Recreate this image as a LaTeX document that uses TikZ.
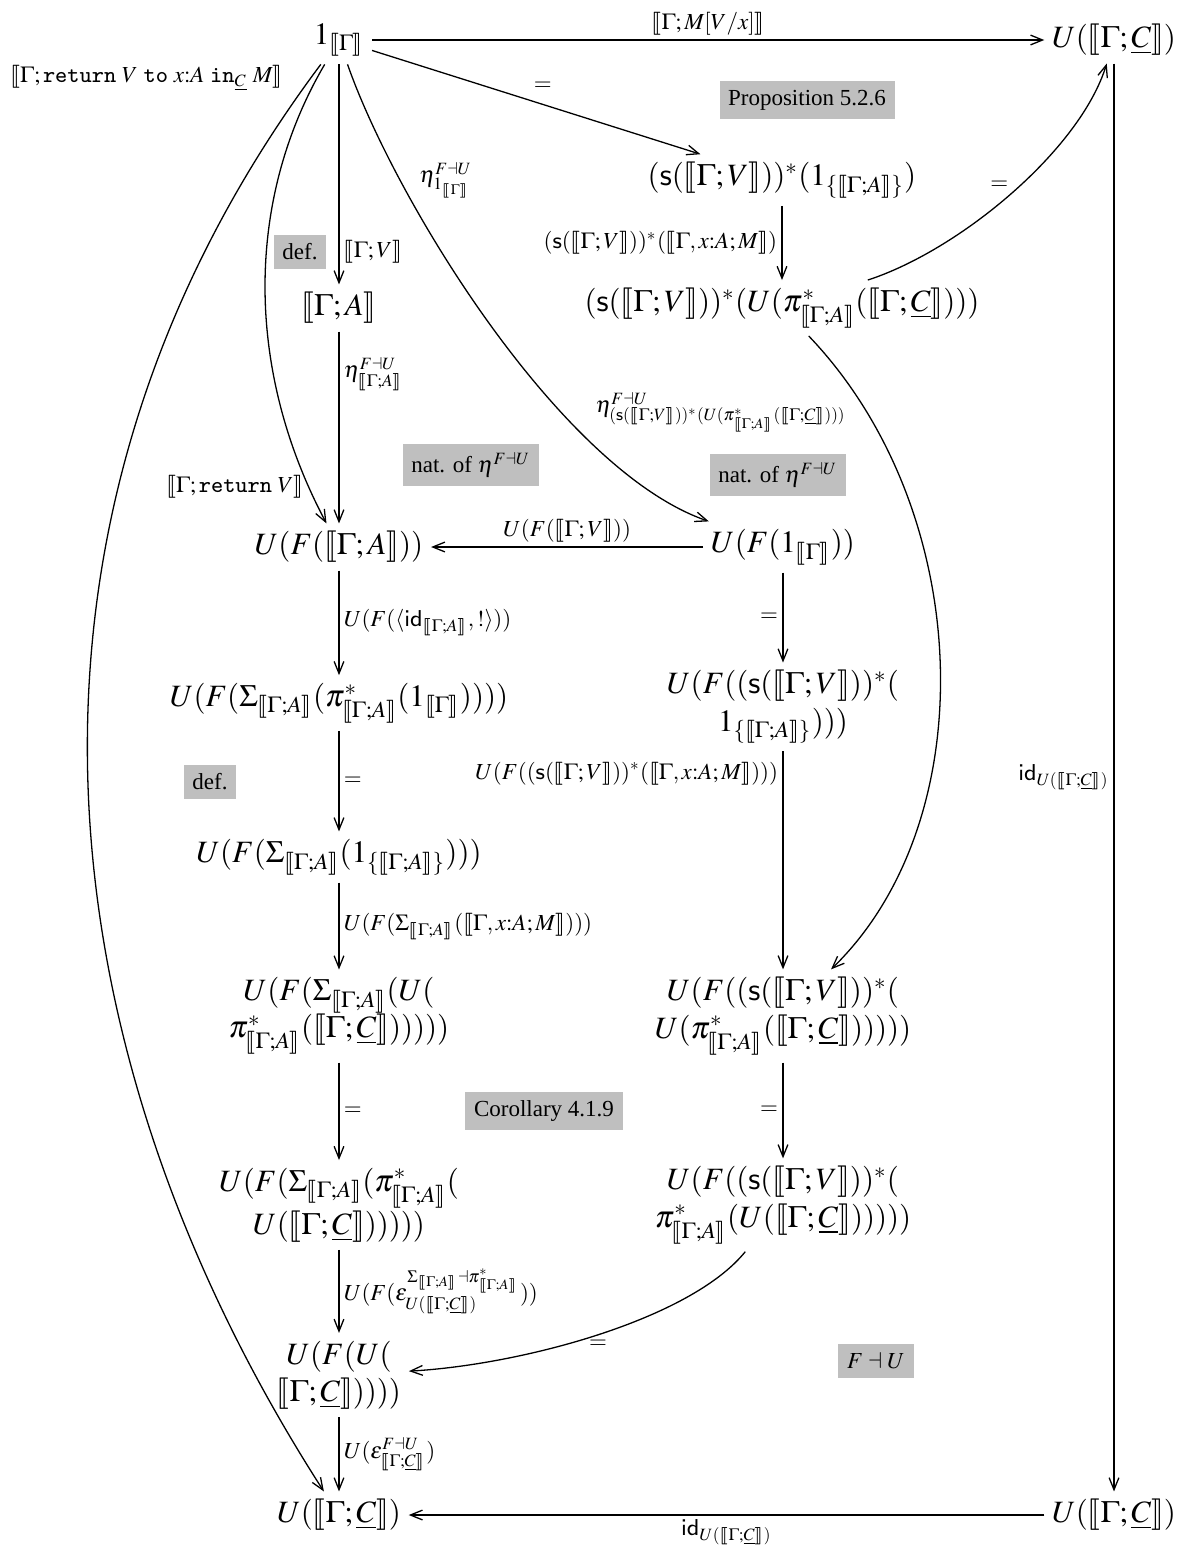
\documentclass[tikz,border=0pt]{standalone}
\usepackage{mathptmx}
\usepackage{stmaryrd}
\usepackage{fontspec}
\setmainfont{Liberation Serif}
\setsansfont{Liberation Sans}
\usetikzlibrary{arrows.meta}
\newcommand{\semb}[1]{\llbracket #1\rrbracket}
\newcommand{\uC}{\underline{C}}
\newcommand{\sV}{(\mathsf{s}(\semb{\Gamma;V}))^*}
\newcommand{\GA}{\semb{\Gamma;A}}
\begin{document}
\begin{tikzpicture}[x=0.348pt,y=-0.348pt,line width=0.45pt,
  obj/.style={inner sep=2.5pt,font=\fontsize{10.8}{13}\selectfont,align=center},
  lbl/.style={font=\fontsize{8}{9.6}\selectfont,inner sep=1.5pt},
  note/.style={fill=gray!50,font=\fontsize{8}{9.6}\selectfont,inner sep=3pt},
  arr/.style={-{Straight Barb[length=4.2pt,width=3.4pt]}}]
\useasboundingbox (0,0) rectangle (1196,1555);
% objects
\node[obj] (n1) at (339,40) {$1_{\semb{\Gamma}}$};
\node[obj] (nUC1) at (1114,40) {$U(\semb{\Gamma;\uC})$};
\node[obj] (nC) at (782,180) {$\sV(1_{\{\GA\}})$};
\node[obj] (nD) at (782,308) {$\sV(U(\pi^*_{\GA}(\semb{\Gamma;\uC})))$};
\node[obj] (nGA) at (339,308) {$\GA$};
\node[obj] (nUFA) at (339,547) {$U(F(\GA))$};
\node[obj] (nUF1) at (783,547) {$U(F(1_{\semb{\Gamma}}))$};
\node[obj] (nL2) at (339,703) {$U(F(\Sigma_{\GA}(\pi^*_{\GA}(1_{\semb{\Gamma}}))))$};
\node[obj] (nR2) at (783,707) {$U(F(\sV($\\$1_{\{\GA\}})))$};
\node[obj] (nL3) at (339,857) {$U(F(\Sigma_{\GA}(1_{\{\GA\}})))$};
\node[obj] (nL4) at (339,1016) {$U(F(\Sigma_{\GA}(U($\\$\pi^*_{\GA}(\semb{\Gamma;\uC})))))$};
\node[obj] (nR4) at (783,1016) {$U(F(\sV($\\$U(\pi^*_{\GA}(\semb{\Gamma;\uC})))))$};
\node[obj] (nL5) at (339,1205) {$U(F(\Sigma_{\GA}(\pi^*_{\GA}($\\$U(\semb{\Gamma;\uC})))))$};
\node[obj] (nR5) at (783,1205) {$U(F(\sV($\\$\pi^*_{\GA}(U(\semb{\Gamma;\uC})))))$};
\node[obj] (nL6) at (339,1375) {$U(F(U($\\$\semb{\Gamma;\uC}))))$};
\node[obj] (nB1) at (339,1515) {$U(\semb{\Gamma;\uC})$};
\node[obj] (nB2) at (1114,1515) {$U(\semb{\Gamma;\uC})$};
% notes
\node[note] (p1) at (807,100) {Proposition 5.2.6};
\node[note] (d1) at (300,252) {def.};
\node[note] (e1) at (471,465) {nat. of $\eta^{F\dashv U}$};
\node[note] (e2) at (778,475) {nat. of $\eta^{F\dashv U}$};
\node[note] (d2) at (210,782) {def.};
\node[note] (c1) at (544,1111) {Corollary 4.1.9};
\node[note] (a1) at (876,1361) {$F\dashv U$};
% arrows
\draw[arr] (n1) -- node[lbl,above]{$\semb{\Gamma;M[V/x]}$} (nUC1);
\draw[arr] (n1) -- node[lbl,above=3pt,pos=0.52]{$=$} (nC);
\draw[arr] (n1) -- node[lbl,right,pos=0.85]{$\semb{\Gamma;V}$} (nGA);
\draw[arr] (nC) -- node[lbl,left]{$\sV(\semb{\Gamma,x{:}A;M})$} (nD);
\draw[arr] (nD) .. controls (960,250) and (1080,150) .. node[lbl,pos=0.5,anchor=south east,inner sep=1pt]{$=$} (nUC1);
\draw[arr] (nGA) -- node[lbl,right,pos=0.22]{$\eta^{F\dashv U}_{\GA}$} (nUFA);
\draw[arr] (n1) .. controls (245,200) and (245,370) .. node[lbl,pos=0.92,left]{$\semb{\Gamma;\mathtt{return}\ V}$} (nUFA);
\draw[arr] (n1) .. controls (-20,520) and (40,1050) .. node[lbl,pos=0.01,anchor=east,xshift=-8pt]{$\semb{\Gamma;\mathtt{return}\ V\ \mathtt{to}\ x{:}A\ \mathtt{in}_{\uC}\ M}$} (nB1);
\draw[arr] (n1) .. controls (395,200) and (560,470) .. node[lbl,pos=0.24,right=5pt]{$\eta^{F\dashv U}_{1_{\semb{\Gamma}}}$} (nUF1);
\draw[arr] (nD) .. controls (975,510) and (985,820) .. node[lbl,pos=0.1,anchor=east,xshift=-1pt,yshift=-7pt]{$\eta^{F\dashv U}_{\sV(U(\pi^*_{\GA}(\semb{\Gamma;\uC})))}$} (nR4);
\draw[arr] (nUF1) -- node[lbl,above]{$U(F(\semb{\Gamma;V}))$} (nUFA);
\draw[arr] (nUFA) -- node[lbl,right]{$U(F(\langle\mathsf{id}_{\GA},!\rangle))$} (nL2);
\draw[arr] (nUF1) -- node[lbl,left]{$=$} (nR2);
\draw[arr] (nL2) -- node[lbl,right]{$=$} (nL3);
\draw[arr] (nR2) -- node[lbl,left,pos=0.1]{$U(F(\sV(\semb{\Gamma,x{:}A;M})))$} (nR4);
\draw[arr] (nL3) -- node[lbl,right]{$U(F(\Sigma_{\GA}(\semb{\Gamma,x{:}A;M})))$} (nL4);
\draw[arr] (nL4) -- node[lbl,right]{$=$} (nL5);
\draw[arr] (nR4) -- node[lbl,left]{$=$} (nR5);
\draw[arr] (nL5) -- node[lbl,right]{$U(F(\varepsilon^{\Sigma_{\GA}\dashv\pi^*_{\GA}}_{U(\semb{\Gamma;\uC})}))$} (nL6);
\draw[arr] (nR5) .. controls (690,1320) and (520,1365) .. node[lbl,below]{$=$} (nL6);
\draw[arr] (nL6) -- node[lbl,right]{$U(\varepsilon^{F\dashv U}_{\semb{\Gamma;\uC}})$} (nB1);
\draw[arr] (nUC1) -- node[lbl,left]{$\mathsf{id}_{U(\semb{\Gamma;\uC})}$} (nB2);
\draw[arr] (nB2) -- node[lbl,below]{$\mathsf{id}_{U(\semb{\Gamma;\uC})}$} (nB1);
\end{tikzpicture}
\end{document}
